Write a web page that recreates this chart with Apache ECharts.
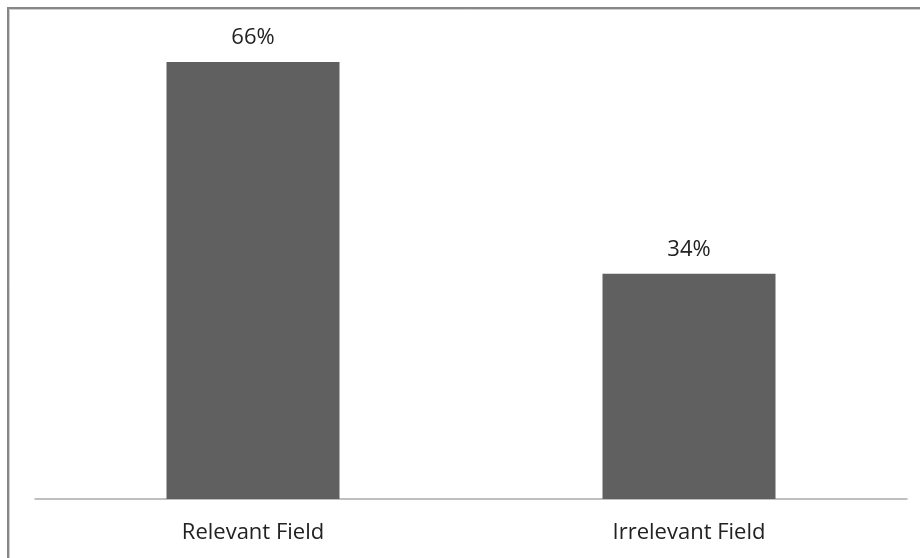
<!DOCTYPE html>
<html>
<head>
<meta charset="utf-8">
<script src="https://cdn.jsdelivr.net/npm/echarts@6/dist/echarts.min.js"></script>
<style>
  html, body { margin: 0; padding: 0; background: #fff; }
  #chart { width: 920px; height: 558px; }
</style>
</head>
<body>
<div id="chart"></div>
<script>
// Share of respondents by field relevance
const categories = ['Relevant Field', 'Irrelevant Field'];
const shares = [66, 34];

const chart = echarts.init(document.getElementById('chart'), null, { renderer: 'canvas' });

chart.setOption({
  backgroundColor: '#ffffff',
  animation: false,
  textStyle: { fontFamily: 'Open Sans' },
  graphic: [
    // frame around the chart area
    {
      type: 'rect', silent: true,
      shape: { x: 8, y: 8, width: 1000, height: 1000 },
      style: { fill: 'none', stroke: '#878787', lineWidth: 2 }
    },
    {
      type: 'rect', silent: true,
      shape: { x: 9.5, y: 9.5, width: 1000, height: 1000 },
      style: { fill: 'none', stroke: '#cfcfcf', lineWidth: 1 }
    }
  ],
  grid: { left: 35, right: 13, top: 35.5, bottom: 59, containLabel: false },
  xAxis: {
    type: 'category',
    data: categories,
    axisLine: { show: true, lineStyle: { color: '#ababab', width: 1.5 } },
    axisTick: { show: false },
    axisLabel: { color: '#222222', fontSize: 22, margin: 23, fontFamily: 'Open Sans' }
  },
  yAxis: {
    type: 'value',
    min: 0, max: 70,
    show: false,
    splitLine: { show: false }
  },
  series: [{
    type: 'bar',
    data: shares,
    barWidth: 173,
    itemStyle: { color: '#606060' },
    label: {
      show: true,
      position: 'top',
      distance: 13,
      formatter: p => p.value + '%',
      color: '#222222',
      fontSize: 22,
      fontFamily: 'Open Sans'
    }
  }]
});
</script>
</body>
</html>
